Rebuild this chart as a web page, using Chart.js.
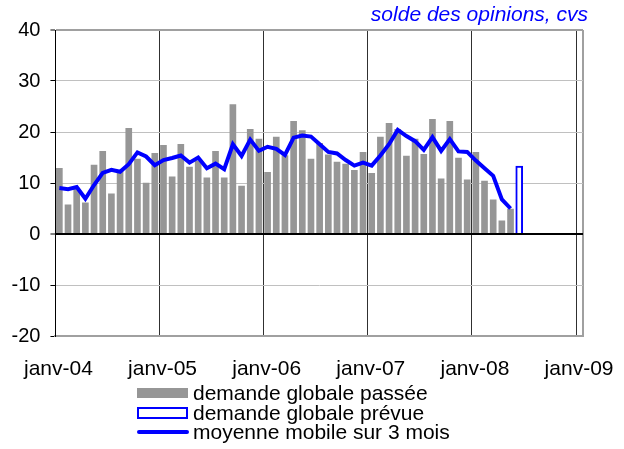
<!DOCTYPE html>
<html>
<head>
<meta charset="utf-8">
<script src="https://cdn.jsdelivr.net/npm/chart.js@4/dist/chart.umd.min.js"></script>
<style>
  html, body { margin: 0; padding: 0; background: #fff; }
  #wrap { width: 624px; height: 449px; }
</style>
</head>
<body>
<div id="wrap"><canvas id="chart" width="624" height="449"></canvas></div>
<script>
// monthly data, janv-04 .. mai-08
const yearLabels = ['janv-04', 'janv-05', 'janv-06', 'janv-07', 'janv-08', 'janv-09'];
const yTicks = [-20, -10, 0, 10, 20, 30, 40];

const demandePassee = [
  12.9, 5.7, 9.0, 6.1, 13.5, 16.2, 7.9, 12.4, 20.7, 14.7, 10.0, 15.8,   // 2004
  17.4, 11.2, 17.6, 13.1, 14.3, 11.0, 16.2, 11.0, 25.4, 9.4, 20.5, 18.6, // 2005
  12.1, 19.0, 15.4, 22.1, 20.3, 14.7, 17.8, 15.5, 14.1, 13.7, 12.5, 16.0, // 2006
  11.9, 19.0, 21.7, 20.5, 15.3, 18.6, 15.6, 22.5, 10.8, 22.1, 14.9, 10.6, // 2007
  16.0, 10.4, 6.7, 2.6, 4.9                                              // 2008
];
// forecast point (juin-08)
const prevueMois = 53;
const demandePrevue = [13.3];

const moyenneMobile = [
  9.0, 8.8, 9.2, 6.9, 9.6, 12.0, 12.6, 12.2, 13.7, 16.0, 15.2, 13.5,
  14.5, 14.9, 15.4, 14.0, 15.0, 12.9, 13.8, 12.7, 17.6, 15.3, 18.5, 16.3,
  17.1, 16.7, 15.5, 18.9, 19.3, 19.1, 17.6, 16.1, 15.8, 14.5, 13.4, 14.0,
  13.4, 15.4, 17.6, 20.4, 19.2, 18.2, 16.5, 19.0, 16.3, 18.6, 16.2, 16.1,
  14.4, 12.9, 11.4, 6.8, 5.0
];

const FONT = "'Liberation Sans', Arial, sans-serif";
const MID = 0.45; // bars sit mid-month

const toPts = arr => arr.map((v, i) => ({ x: i + MID, y: v }));

const extras = {
  id: 'extras',
  afterDatasetsDraw(chart) {
    const ctx = chart.ctx, a = chart.chartArea;
    const y0 = chart.scales.y.getPixelForValue(0);
    ctx.save();
    ctx.strokeStyle = '#000';
    ctx.lineWidth = 2;
    ctx.beginPath();
    ctx.moveTo(a.left, y0);
    ctx.lineTo(a.right, y0);
    ctx.stroke();
    ctx.restore();
  },
  afterDraw(chart) {
    const ctx = chart.ctx;
    ctx.save();
    // title
    ctx.font = 'italic 21px ' + FONT;
    ctx.fillStyle = '#0000ff';
    ctx.textAlign = 'right';
    ctx.textBaseline = 'middle';
    ctx.fillText('solde des opinions, cvs', 588, 15);

    // legend
    const ds = chart.data.datasets;
    const x0 = 137, w = 51, rows = [393, 413, 432];
    ctx.font = '21px ' + FONT;
    ctx.textAlign = 'left';
    // passée
    ctx.fillStyle = '#969696';
    ctx.fillRect(x0, rows[0] - 5, w, 10);
    // prévue
    ctx.fillStyle = '#fff';
    ctx.fillRect(x0, rows[1] - 5, w, 11);
    ctx.strokeStyle = '#0000ff';
    ctx.lineWidth = 2;
    ctx.strokeRect(x0 + 1, rows[1] - 5, w - 2, 10);
    // moyenne
    ctx.lineWidth = 4;
    ctx.lineCap = 'round';
    ctx.beginPath();
    ctx.moveTo(x0 + 2, rows[2]);
    ctx.lineTo(x0 + w - 1, rows[2]);
    ctx.stroke();

    ctx.fillStyle = '#000';
    const order = [1, 2, 0];
    order.forEach((di, r) => ctx.fillText(ds[di].label, 193, rows[r] + 1));
    ctx.restore();
  }
};

new Chart(document.getElementById('chart'), {
  type: 'bar',
  data: {
    datasets: [
      {
        type: 'line',
        label: 'moyenne mobile sur 3 mois',
        data: toPts(moyenneMobile),
        borderColor: '#0000ff',
        borderWidth: 4,
        pointRadius: 0,
        tension: 0,
        order: 0
      },
      {
        label: 'demande globale passée',
        data: toPts(demandePassee),
        backgroundColor: '#969696',
        barThickness: 6,
        grouped: false,
        order: 2
      },
      {
        label: 'demande globale prévue',
        data: demandePrevue.map(v => ({ x: prevueMois + MID, y: v })),
        backgroundColor: '#ffffff',
        borderColor: '#0000ff',
        borderWidth: 2,
        barThickness: 7,
        grouped: false,
        order: 1
      }
    ]
  },
  options: {
    responsive: false,
    animation: false,
    layout: { padding: { top: 30, right: 41, left: 0, bottom: 0 } },
    plugins: {
      legend: { display: false },
      tooltip: { enabled: false }
    },
    scales: {
      x: {
        type: 'linear',
        min: 0,
        max: 60.8,
        offset: false,
        afterFit(s) { s.height = 113; },
        afterBuildTicks(s) {
          s.ticks = [0, 12, 24, 36, 48, 60, 60.8].map(v => ({ value: v }));
        },
        ticks: {
          autoSkip: false,
          maxRotation: 0,
          padding: 21,
          labelOffset: 3,
          color: '#000',
          font: { family: FONT, size: 21 },
          callback: v => (v % 12 === 0 ? yearLabels[v / 12] : '')
        },
        grid: {
          offset: false,
          drawTicks: false,
          color: c => (c.tick && c.tick.value === 60.8 ? '#a0a0a0' : '#303030'),
          lineWidth: c => (c.tick && c.tick.value === 60.8 ? 2 : 1)
        },
        border: { color: '#a0a0a0', width: 2 }
      },
      y: {
        min: -20,
        max: 40,
        afterFit(s) { s.width = 55; },
        afterBuildTicks(s) { s.ticks = yTicks.map(v => ({ value: v })); },
        ticks: {
          padding: 10,
          color: '#000',
          font: { family: FONT, size: 20 }
        },
        grid: {
          tickLength: 5,
          tickColor: '#000',
          tickWidth: 1,
          color: c => {
            const v = c.tick && c.tick.value;
            if (v === 40) return '#a0a0a0';
            if (v === -20) return 'rgba(0,0,0,0)';
            if (v === 0) return '#000';
            return '#c0c0c0';
          },
          lineWidth: c => (c.tick && (c.tick.value === 40 || c.tick.value === 0) ? 2 : 1)
        },
        border: { color: '#000', width: 1 }
      }
    }
  },
  plugins: [extras]
});
</script>
</body>
</html>
